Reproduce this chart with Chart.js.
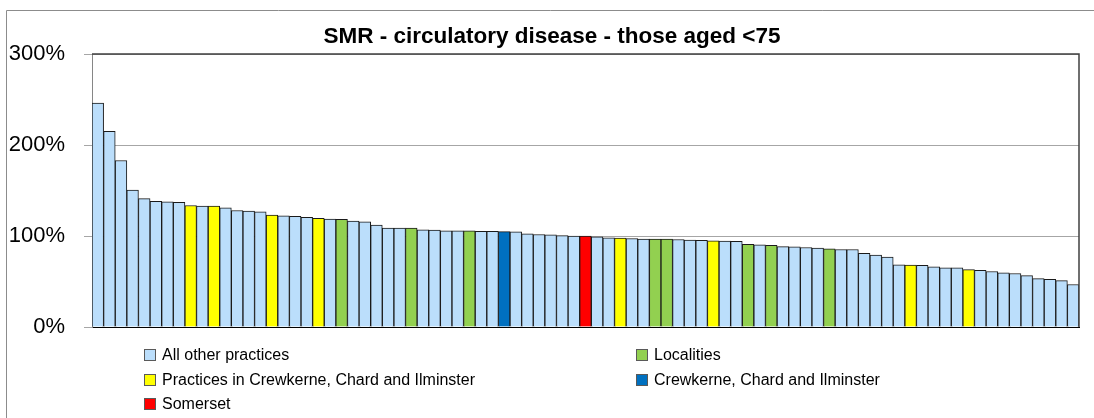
<!DOCTYPE html>
<html lang="en">
<head>
<meta charset="utf-8">
<title>SMR - circulatory disease - those aged &lt;75</title>
<style>
  html, body { margin: 0; padding: 0; background: #fff; overflow: hidden; }
  #wrap { position: relative; width: 1094px; height: 418px; }
  #legend {
    position: absolute; left: 144px; top: 343px;
    display: grid; grid-template-columns: 492px auto; grid-auto-rows: 24.5px;
    font: 16px 'Liberation Sans', Arial, sans-serif; color: #000;
  }
  #legend .item { display: flex; align-items: center; white-space: nowrap; }
  #legend .box { width: 10px; height: 10px; border: 1px solid #595959; margin-right: 6px; }
</style>
</head>
<body>
<div id="wrap">
  <canvas id="myChart" width="1094" height="418"></canvas>
  <div id="legend"></div>
</div>

<script src="https://cdn.jsdelivr.net/npm/chart.js@4/dist/chart.umd.min.js"></script>
<script>
// SMR (%) for each practice / area, sorted high to low
var values = [
  246, 215, 183, 150.5, 141, 138, 137.5, 137, 133.5, 133,
  133, 131, 128, 127.5, 126.5, 123, 122.3, 121.5, 120.5, 119.5,
  118.5, 118.4, 116.3, 115.5, 112, 108.8, 108.8, 108.8, 106.8, 106.5,
  105.6, 105.6, 105.6, 105.2, 105.2, 104.8, 104.5, 102.3, 101.6, 101.3,
  100.5, 99.9, 99.8, 99.1, 98, 97.6, 97.3, 96.6, 96.6, 96.6,
  96.2, 95.5, 95.2, 94.8, 94.4, 94.1, 90.9, 90.2, 89.8, 88.4,
  88.1, 87.4, 86.6, 85.8, 85.2, 85.2, 81, 79.1, 76.7, 68.4,
  68.1, 67.7, 66, 64.9, 64.9, 63.1, 62.4, 61, 59.6, 58.8,
  56.4, 53.2, 52.5, 51, 46.7
];

// which group each bar belongs to
// o = all other practices, L = localities, P = practices in CCI, C = CCI, S = Somerset
var groups = [
  'o','o','o','o','o','o','o','o','P','o',
  'P','o','o','o','o','P','o','o','o','P',
  'o','L','o','o','o','o','o','L','o','o',
  'o','o','L','o','o','C','o','o','o','o',
  'o','o','S','o','o','P','o','o','L','L',
  'o','o','o','P','o','o','L','o','L','o',
  'o','o','o','L','o','o','o','o','o','o',
  'P','o','o','o','o','P','o','o','o','o',
  'o','o','o','o','o'
];

// rank of each bar (no names shown on the axis)
var categories = values.map(function (v, i) { return String(i + 1); });

var seriesNames = ['All other practices', 'Localities', 'Practices in Crewkerne, Chard and Ilminster',
  'Crewkerne, Chard and Ilminster', 'Somerset'];
var seriesCodes = ['o', 'L', 'P', 'C', 'S'];
var seriesColors = ['#BBDEFB', '#92D050', '#FFFF00', '#0070C0', '#FF0000'];

var yTicks = [0, 100, 200, 300];

// one dataset per group, nulls elsewhere (stacked so every bar is full width)
var datasets = [];
for (var k = 0; k < seriesCodes.length; k++) {
  datasets.push({
    label: seriesNames[k],
    data: values.map(function (v, i) { return groups[i] === seriesCodes[k] ? v : null; }),
    backgroundColor: seriesColors[k],
    borderColor: '#1a1a1a',
    borderWidth: 1,
    categoryPercentage: 1.0,
    barPercentage: 1.0
  });
}

// outer chart frame + plot area top/right border
var frames = {
  id: 'frames',
  afterLayout: function (chart) {
    // title is centred on the whole chart frame, not the padded box
    if (chart.titleBlock) chart.titleBlock.left += 16;
  },
  beforeDraw: function (chart) {
    var c = chart.ctx;
    c.save();
    c.strokeStyle = '#8c8c8c';
    c.lineWidth = 1;
    c.beginPath();
    c.moveTo(6.5, chart.height);
    c.lineTo(6.5, 10.5);
    c.lineTo(chart.width, 10.5);
    c.stroke();
    c.restore();
  },
  afterDraw: function (chart) {
    var a = chart.chartArea, c = chart.ctx;
    c.save();
    c.strokeStyle = '#404040';
    c.lineWidth = 1.5;
    c.beginPath();
    c.moveTo(a.left, a.top);
    c.lineTo(a.right, a.top);
    c.lineTo(a.right, a.bottom);
    c.stroke();
    c.restore();
  }
};

Chart.defaults.font.family = "'Liberation Sans', Arial, sans-serif";
Chart.defaults.color = '#000';

var ctx = document.getElementById('myChart').getContext('2d');
var chart = new Chart(ctx, {
  type: 'bar',
  data: { labels: categories, datasets: datasets },
  plugins: [frames],
  options: {
    responsive: false,
    animation: false,
    devicePixelRatio: 1,
    layout: { padding: { left: 9, right: 15, top: 23.5, bottom: 83 } },
    plugins: {
      legend: { display: false },
      tooltip: { enabled: false },
      title: {
        display: true,
        text: 'SMR - circulatory disease - those aged <75',
        font: { size: 22.5, weight: 'bold' },
        color: '#000',
        padding: { top: 0, bottom: 3.5 }
      }
    },
    scales: {
      x: {
        stacked: true,
        ticks: { display: false },
        grid: { display: false },
        border: { color: '#000', width: 1 }
      },
      y: {
        stacked: true,
        min: yTicks[0],
        max: yTicks[yTicks.length - 1],
        afterBuildTicks: function (axis) {
          axis.ticks = yTicks.map(function (v) { return { value: v }; });
        },
        afterFit: function (axis) { axis.width = 83; },
        ticks: {
          padding: 19,
          font: { size: 22 },
          callback: function (v) { return v + '%'; }
        },
        grid: { color: '#a6a6a6', tickLength: 8 },
        border: { color: '#868686' }
      }
    }
  }
});

// legend in two columns, built from the chart datasets
var legendEl = document.getElementById('legend');
chart.data.datasets.forEach(function (ds) {
  var item = document.createElement('div');
  item.className = 'item';
  var box = document.createElement('span');
  box.className = 'box';
  box.style.background = ds.backgroundColor;
  var txt = document.createElement('span');
  txt.textContent = ds.label;
  item.appendChild(box);
  item.appendChild(txt);
  legendEl.appendChild(item);
});
</script>
</body>
</html>
